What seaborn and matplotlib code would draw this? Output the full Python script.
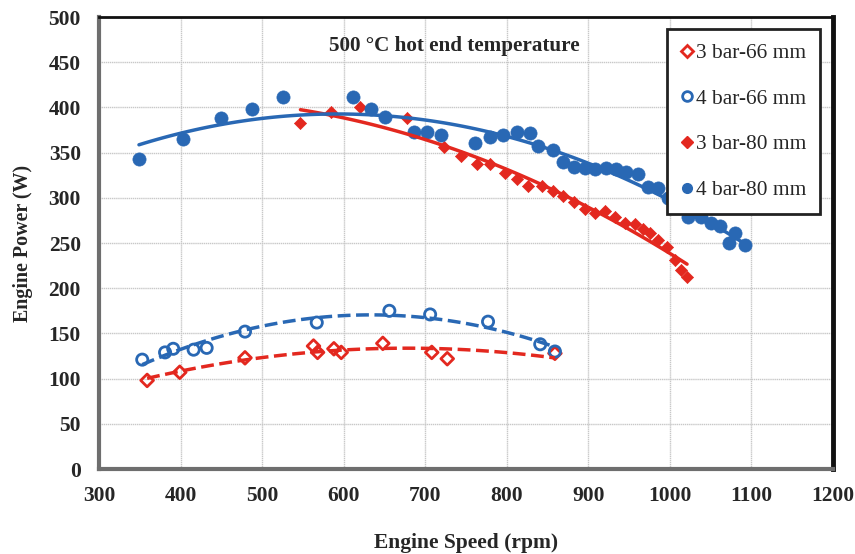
import numpy as np
import pandas as pd
import matplotlib.pyplot as plt
import seaborn as sns
from matplotlib.lines import Line2D

# data
rpm_3bar66 = [359, 399, 479, 563, 568, 588, 597, 648, 708, 727, 859]
pow_3bar66 = [98, 107, 123, 136, 129, 133, 129, 139, 129, 122, 128]

rpm_4bar66 = [353, 381, 391, 416, 432, 479, 567, 656, 706, 777, 841, 859]
pow_4bar66 = [121, 129, 133, 132, 134, 152, 162, 175, 171, 163, 138, 130]

rpm_3bar80 = [547, 584, 620, 678, 723, 744, 763, 780, 798, 812, 826, 843, 857, 869,
              883, 896, 908, 920, 933, 945, 957, 967, 976, 985, 997, 1006, 1014, 1021]
pow_3bar80 = [383, 395, 400, 388, 356, 346, 337, 337, 327, 321, 313, 313, 307, 302,
              295, 288, 283, 285, 279, 272, 271, 266, 261, 253, 246, 231, 220, 212]

rpm_4bar80 = [349, 403, 449, 488, 525, 611, 633, 651, 686, 702, 719, 761, 780, 795,
              812, 828, 838, 857, 869, 883, 896, 908, 922, 934, 946, 961, 973, 985,
              998, 1022, 1038, 1050, 1061, 1080, 1073, 1092]
pow_4bar80 = [343, 365, 388, 398, 412, 412, 398, 389, 373, 373, 370, 361, 367, 369,
              373, 372, 357, 353, 340, 334, 333, 332, 333, 332, 328, 326, 312, 311,
              300, 279, 279, 272, 269, 261, 250, 248]

labels = ["3 bar-66 mm", "4 bar-66 mm", "3 bar-80 mm", "4 bar-80 mm"]
red = "#e3281f"
blue = "#2968b4"

sns.set_style("white")
plt.rcParams['font.family'] = ['Liberation Serif', 'DejaVu Serif']

fig = plt.figure(figsize=(8.55, 5.54), dpi=100)
ax = fig.add_axes([0.1158, 0.1534, 0.8585, 0.8159])

series = [
    (rpm_3bar66, pow_3bar66, red, "D", "none", "--", 42),
    (rpm_4bar66, pow_4bar66, blue, "o", "none", "--", 65),
    (rpm_3bar80, pow_3bar80, red, "D", red, "-", 38),
    (rpm_4bar80, pow_4bar80, blue, "o", blue, "-", 90),
]

for (x, y, c, m, fc, ls, s), lab in zip(series, labels):
    df = pd.DataFrame({"rpm": x, "power": y})
    sns.scatterplot(data=df, x="rpm", y="power", ax=ax, marker=m, s=s,
                    facecolor=fc, edgecolor=c, linewidth=2 if fc == "none" else 0.5,
                    zorder=3)
    sns.regplot(data=df, x="rpm", y="power", ax=ax, order=2, ci=None,
                scatter=False, truncate=True, color=c,
                line_kws={"ls": ls, "lw": 2.5, "zorder": 4})

ax.set_xlim(300, 1200)
ax.set_ylim(0, 500)
ax.set_xticks(np.arange(300, 1201, 100))
ax.set_yticks(np.arange(0, 501, 50))
ax.grid(True, color="#c8c8c8", lw=1, ls=(0, (1, 0.5)))
ax.set_axisbelow(True)
ax.tick_params(axis="both", labelsize=15.5, length=4, width=1.2, color="#999999",
               direction="out")
ax.tick_params(axis="x", pad=8.5)
ax.tick_params(axis="y", pad=9)
for t in ax.get_xticklabels() + ax.get_yticklabels():
    t.set_fontweight("bold")

ax.spines["left"].set_color("#6e6e6e")
ax.spines["left"].set_linewidth(3)
ax.spines["bottom"].set_color("#6e6e6e")
ax.spines["bottom"].set_linewidth(3)
ax.spines["top"].set_color("#111111")
ax.spines["top"].set_linewidth(2)
ax.spines["right"].set_color("#111111")
ax.spines["right"].set_linewidth(3.5)

ax.set_xlabel("Engine Speed (rpm)", fontsize=15.5, fontweight="bold", labelpad=19)
ax.set_ylabel("Engine Power (W)", fontsize=14.4, fontweight="bold", labelpad=11)

ax.text(736, 468, "500 \u00b0C hot end temperature", ha="center", va="center",
        fontsize=15.2, fontweight="bold")

handles = []
for (x, y, c, m, fc, ls, s) in series:
    handles.append(Line2D([], [], ls="none", marker=m, color=c,
                          markerfacecolor=c if fc != "none" else "white",
                          markeredgecolor=c, markeredgewidth=2 if fc == "none" else 1,
                          markersize=6 if m == "D" else 7))
leg = ax.legend(handles, labels, loc="upper right", bbox_to_anchor=(0.982, 0.973),
                fontsize=15.4, frameon=True, fancybox=False, framealpha=1,
                edgecolor="#222222", labelspacing=1.2, handlelength=0.6,
                handletextpad=0.1, borderpad=0.65, borderaxespad=0)
leg.get_frame().set_linewidth(2)

fig.savefig("out.png", dpi=100)
